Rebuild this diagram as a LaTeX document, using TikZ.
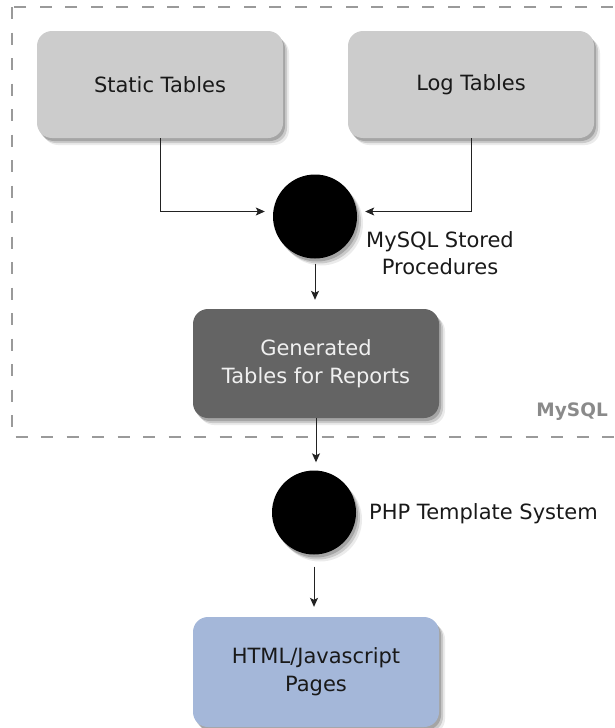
\documentclass[tikz,border=0pt]{standalone}
\usepackage{fontspec}
\setmainfont{DejaVu Sans}
\usetikzlibrary{shadows,arrows.meta,calc}
\definecolor{boxgray}{HTML}{CCCCCC}
\definecolor{gendark}{HTML}{646464}
\definecolor{gentext}{HTML}{F0F0F0}
\definecolor{htmlblue}{HTML}{A4B7D9}
\definecolor{framegray}{HTML}{9A9A9A}
\definecolor{labelgray}{HTML}{8A8A8A}
\definecolor{linegray}{HTML}{222222}
\begin{document}
\begin{tikzpicture}[x=1pt,y=-1pt,
  softshadow/.style={
    drop shadow={shadow xshift=2pt, shadow yshift=-3pt, opacity=0.18, fill=black},
    drop shadow={shadow xshift=4pt, shadow yshift=-5pt, opacity=0.14, fill=black},
    drop shadow={shadow xshift=6pt, shadow yshift=-7pt, opacity=0.08, fill=black}},
  basebox/.style={rectangle, rounded corners=15pt, minimum width=246pt, inner sep=0pt,
    align=center, font=\fontsize{21}{28}\selectfont, softshadow},
  graybox/.style={basebox, fill=boxgray, minimum height=107pt, text=black!90},
  darkbox/.style={basebox, fill=gendark, minimum height=109pt, text=gentext},
  bluebox/.style={basebox, fill=htmlblue, minimum height=110pt, text=black!90},
  dot/.style={circle, fill=black, minimum size=84pt, inner sep=0pt, softshadow},
  lbl/.style={font=\fontsize{21}{27}\selectfont, text=black!90, inner sep=0pt},
  conn/.style={draw=linegray, line width=0.9pt, -{Stealth[length=9pt,width=8pt,inset=2pt]}, shorten >=8pt}
]
\path[use as bounding box] (0,0) rectangle (615,728);
\clip (0,0) rectangle (615,728);
\draw[framegray, line width=2.8pt, dash pattern=on 12pt off 13.5pt] (12,7) rectangle (660,437);

\node[graybox] (static) at (160,84.5) {Static Tables};
\node[graybox] (log) at (471,84.5) {Log Tables};
\node[dot] (sp) at (315,216.5) {};
\node[darkbox] (gen) at (316,363.5) {Generated\\Tables for Reports};
\node[dot] (php) at (314,512.5) {};
\node[bluebox] (html) at (316,672) {HTML/Javascript\\Pages};

\node[lbl, align=center] (splabel) at (440,253) {MySQL Stored\\Procedures};
\node[lbl, anchor=west] (phplabel) at (369,514) {PHP Template System};
\node[font=\bfseries\fontsize{18.5}{20}\selectfont, text=labelgray, anchor=east, inner sep=0pt] (mysql) at (608,412) {MySQL};

\draw[conn] (static.south) |- ($(sp.west)+(0,-5)$);
\draw[conn] (log.south) |- ($(sp.east)+(0,-5)$);
\draw[conn, shorten <=5pt, shorten >=9pt] (sp.south) -- (sp.south |- gen.north);
\draw[conn] (gen.south) -- (gen.south |- php.north);
\draw[conn, shorten <=12pt, shorten >=10pt] (php.south) -- (php.south |- html.north);
\end{tikzpicture}
\end{document}
